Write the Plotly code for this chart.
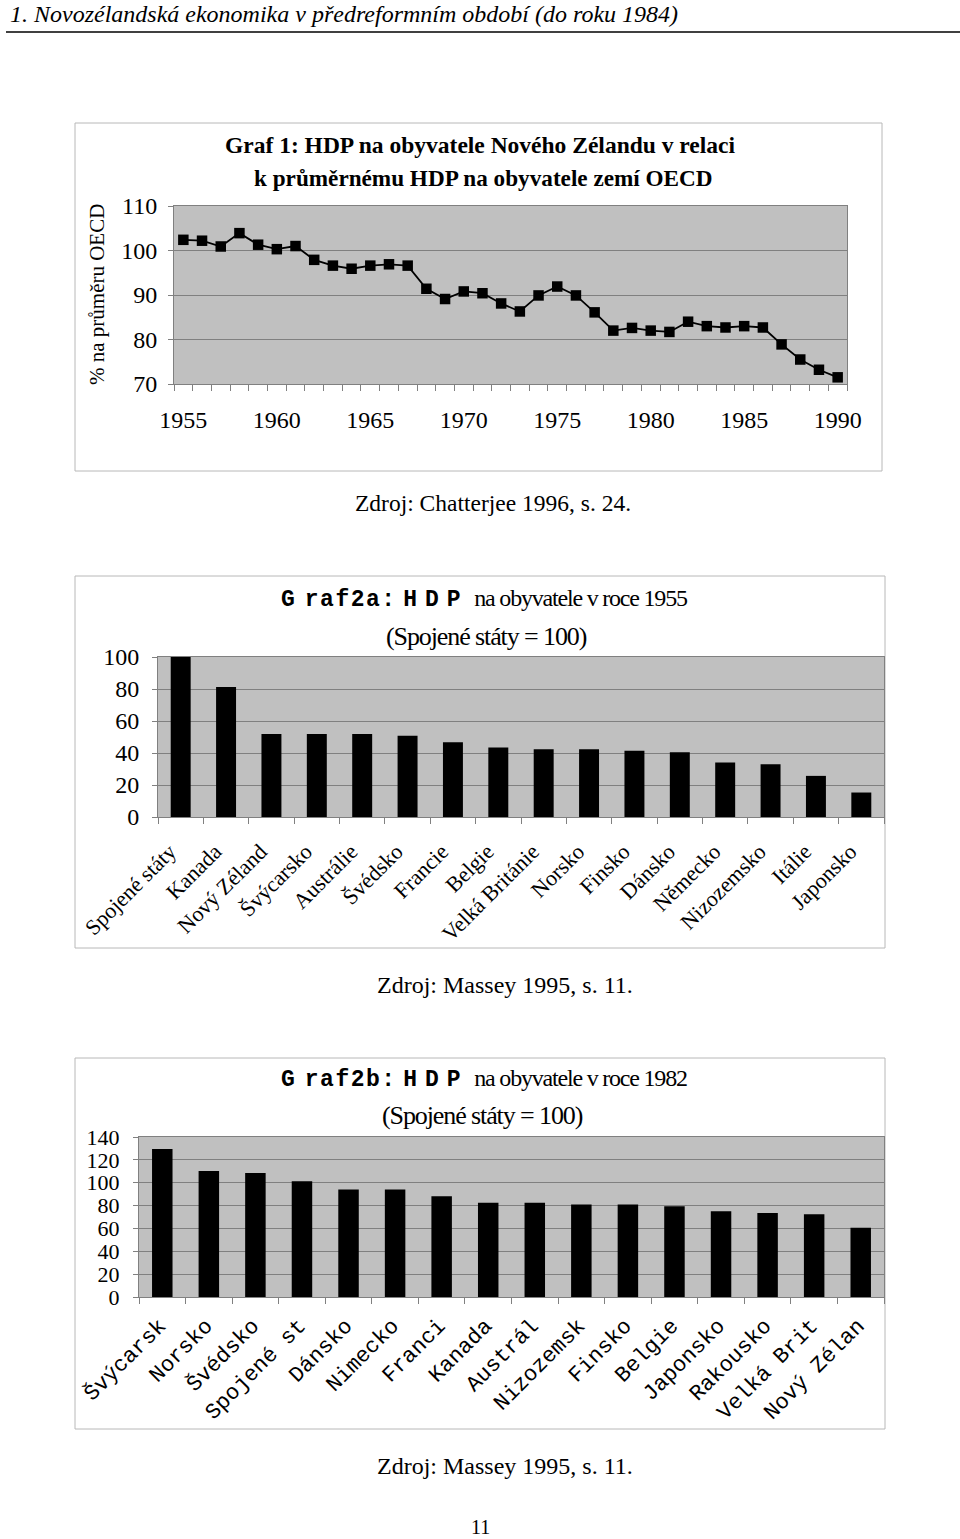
import plotly.graph_objects as go

# ---------------- data ----------------
years = list(range(1955, 1991))
nz_vs_oecd = [102.4, 102.2, 100.9, 103.9, 101.3, 100.3, 101.0, 97.9, 96.6, 95.9,
              96.6, 96.9, 96.6, 91.4, 89.1, 90.8, 90.4, 88.1, 86.3, 89.9,
              91.9, 89.9, 86.1, 82.0, 82.6, 82.0, 81.7, 84.0, 83.0, 82.7,
              83.0, 82.7, 78.9, 75.5, 73.2, 71.5]
year_ticks = [1955, 1960, 1965, 1970, 1975, 1980, 1985, 1990]

countries_1955 = ["Spojené státy", "Kanada", "Nový Zéland", "Švýcarsko", "Austrálie",
                  "Švédsko", "Francie", "Belgie", "Velká Británie", "Norsko", "Finsko",
                  "Dánsko", "Německo", "Nizozemsko", "Itálie", "Japonsko"]
gdp_1955 = [100, 81.2, 51.9, 51.9, 51.9, 50.8, 46.7, 43.5, 42.3, 42.3, 41.4, 40.4,
            34.1, 33.0, 25.7, 15.3]

countries_1982 = ["Švýcarsk", "Norsko", "Švédsko", "Spojené st", "Dánsko", "Nimecko",
                  "Franci", "Kanada", "Austrál", "Nizozemsk", "Finsko", "Belgie",
                  "Japonsko", "Rakousko", "Velká Brit", "Nový Zélan"]
gdp_1982 = [129.5, 110.3, 108.6, 101.3, 94.0, 94.0, 88.2, 82.4, 82.4, 80.9, 80.9,
            79.5, 75.1, 73.6, 72.5, 60.5]

# ---------------- layout helpers ----------------
W, H = 960, 1539
SERIF = "Liberation Serif"
MONO = "Liberation Mono"
GRID = "#808080"
BG = "#c0c0c0"


def px_x(p):
    return p / W


def px_y(p):
    return 1 - p / H


def ann(text, x, y, size, family=SERIF, xanchor="center", **kw):
    return dict(text=text, x=px_x(x), y=px_y(y), xref="paper", yref="paper",
                showarrow=False, font=dict(family=family, size=size, color="black"),
                xanchor=xanchor, yanchor="middle", **kw)


fig = go.Figure()

fig.add_trace(go.Scatter(
    x=years, y=nz_vs_oecd, mode="lines+markers", xaxis="x", yaxis="y",
    line=dict(color="black", width=1.8),
    marker=dict(symbol="square", size=10.5, color="black"),
    showlegend=False, hoverinfo="x+y"))

fig.add_trace(go.Bar(
    x=countries_1955, y=gdp_1955, xaxis="x2", yaxis="y2",
    marker=dict(color="black", line=dict(width=0)), showlegend=False))

fig.add_trace(go.Bar(
    x=countries_1982, y=gdp_1982, xaxis="x3", yaxis="y3",
    marker=dict(color="black", line=dict(width=0)), showlegend=False))

axis_common = dict(showline=True, linecolor=GRID, linewidth=1, mirror=True,
                   zeroline=False, automargin=False)

fig.update_layout(
    width=W, height=H, autosize=False,
    margin=dict(l=0, r=0, t=0, b=0, pad=0, autoexpand=False),
    paper_bgcolor="white", plot_bgcolor=BG, bargap=0.56, showlegend=False,
    font=dict(family=SERIF, color="black"),
    xaxis=dict(domain=[px_x(174), px_x(847)], anchor="y",
               range=[1954.5, 1990.5], tickvals=year_ticks,
               ticks="", showgrid=False,
               minor=dict(ticks="outside", ticklen=6, tickcolor=GRID,
                          tick0=1954.5, dtick=1, showgrid=False),
               tickfont=dict(family=SERIF, size=24), ticklabelstandoff=14,
               **axis_common),
    yaxis=dict(domain=[px_y(384), px_y(206)], anchor="x", range=[70, 110],
               tickvals=[70, 80, 90, 100, 110], ticks="outside", ticklen=5,
               tickcolor=GRID, showgrid=True, gridcolor=GRID, gridwidth=1,
               tickfont=dict(family=SERIF, size=24), ticklabelstandoff=6,
               **axis_common),
    xaxis2=dict(domain=[px_x(158), px_x(884)], anchor="y2", type="category",
                tickson="boundaries", ticks="outside", ticklen=6, tickcolor=GRID,
                showgrid=False, tickangle=-45,
                tickfont=dict(family=SERIF, size=22), ticklabelstandoff=12,
                ticklabelshift=-11,
                **axis_common),
    yaxis2=dict(domain=[px_y(817), px_y(657)], anchor="x2", range=[0, 100],
                tickvals=[0, 20, 40, 60, 80, 100], ticks="outside", ticklen=5,
                tickcolor=GRID, showgrid=True, gridcolor=GRID,
                tickfont=dict(family=SERIF, size=24), ticklabelstandoff=8,
                **axis_common),
    xaxis3=dict(domain=[px_x(139), px_x(884)], anchor="y3", type="category",
                tickson="boundaries", ticks="outside", ticklen=6, tickcolor=GRID,
                showgrid=False, tickangle=-45,
                tickfont=dict(family=MONO, size=22), ticklabelstandoff=6,
                ticklabelshift=-3,
                **axis_common),
    yaxis3=dict(domain=[px_y(1297), px_y(1137)], anchor="x3", range=[0, 140],
                tickvals=[0, 20, 40, 60, 80, 100, 120, 140], ticks="outside",
                ticklen=5, tickcolor=GRID, showgrid=True, gridcolor=GRID,
                tickfont=dict(family=SERIF, size=22), ticklabelstandoff=9,
                **axis_common),
)

frame = dict(type="rect", xref="paper", yref="paper",
             line=dict(color="#b8b8b8", width=1), fillcolor="rgba(0,0,0,0)",
             layer="below")
shapes = [
    dict(frame, x0=px_x(75), x1=px_x(882), y0=px_y(471), y1=px_y(123)),
    dict(frame, x0=px_x(75), x1=px_x(885), y0=px_y(948), y1=px_y(576)),
    dict(frame, x0=px_x(75), x1=px_x(885), y0=px_y(1429), y1=px_y(1058)),
    dict(type="line", xref="paper", yref="paper", x0=px_x(6), x1=px_x(960),
         y0=px_y(32), y1=px_y(32), line=dict(color="#404040", width=2)),
]
fig.update_layout(shapes=shapes)

MONO_SPAN = ("<span style=\"font-family:'Liberation Mono';font-weight:bold;"
             "font-size:23px;letter-spacing:{ls}px\">{t}</span>")


def mono_title(code, rest):
    head = (MONO_SPAN.format(ls=10, t=code[0]) + MONO_SPAN.format(ls=1.5, t=code[1:6])
            + MONO_SPAN.format(ls=8, t=code[6:]))
    return (head + " <span style=\"font-size:24px;letter-spacing:-1.2px\">"
            + rest + "</span>")


title2a = mono_title("Graf2a:HDP", "na obyvatele v roce 1955")
title2b = mono_title("Graf2b:HDP", "na obyvatele v roce 1982")
sub = "<span style=\"letter-spacing:-1.1px\">(Spojené státy = 100)</span>"

annotations = [
    ann("<i>1. Novozélandská ekonomika v předreformním období (do roku 1984)</i>",
        8, 14, 24, xanchor="left"),
    ann("<b>Graf 1: HDP na obyvatele Nového Zélandu v relaci</b>", 480, 145, 23.5),
    ann("<b>k průměrnému HDP na obyvatele zemí OECD</b>", 483, 178, 23.2),
    ann("% na průměru OECD", 97, 295, 21, textangle=-90),
    ann("Zdroj: Chatterjee 1996, s. 24.", 493, 503, 23.5),
    ann(title2a, 484, 599, 23),
    ann(sub, 486, 637, 26),
    ann("Zdroj: Massey 1995, s. 11.", 505, 985, 24),
    ann(title2b, 484, 1079, 23),
    ann(sub, 482, 1115, 26),
    ann("Zdroj: Massey 1995, s. 11.", 505, 1466, 24),
    ann("11", 480, 1527, 20),
]
fig.update_layout(annotations=annotations)

fig.write_html("out.html", config={"displayModeBar": False},
               post_script="document.body.style.margin='0px';")
